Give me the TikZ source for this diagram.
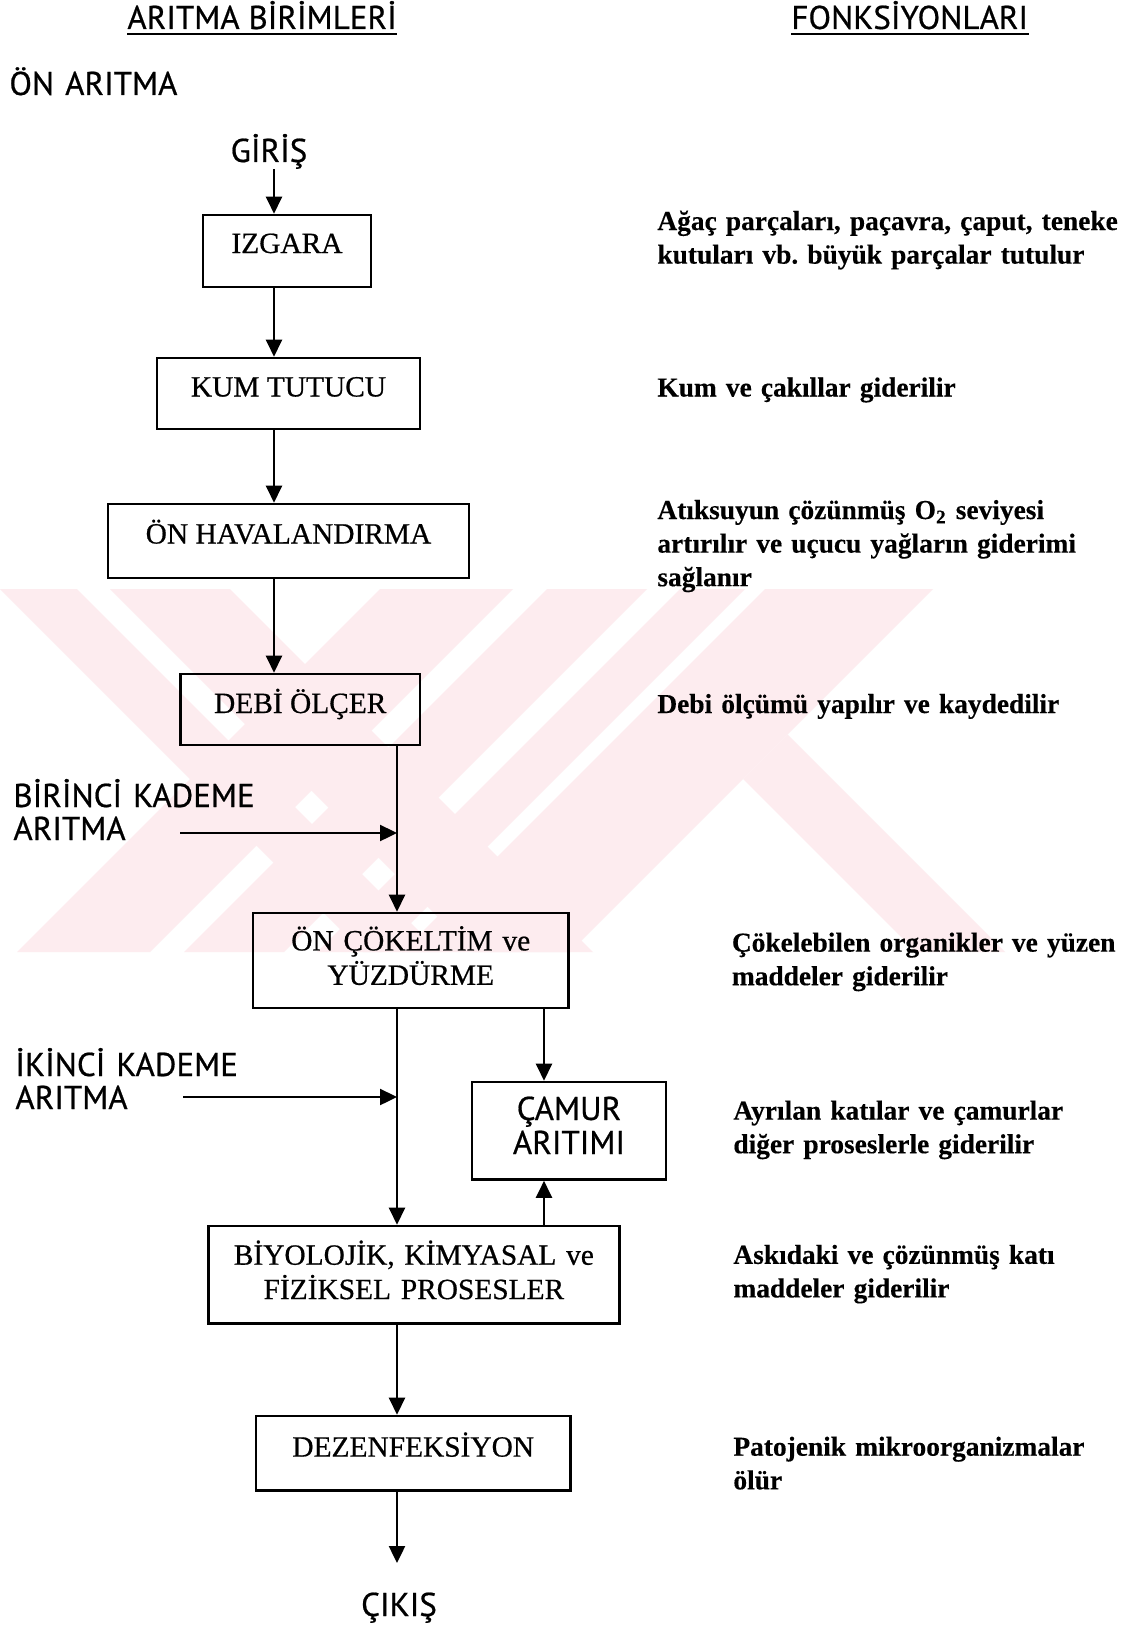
\documentclass[tikz,border=0pt]{standalone}
\usepackage{fontspec}
\setmainfont{Liberation Serif}
\newfontfamily\lblfont[FakeBold=0.6]{PT Sans}
\newfontfamily\boxfont[FakeBold=0.6]{Liberation Serif}
\newfontfamily\funcfont[FakeBold=0.3]{Liberation Serif Bold}
\usetikzlibrary{arrows.meta}
\definecolor{wm}{RGB}{253,236,239}
\frenchspacing
\begin{document}
\begin{tikzpicture}[x=0.5pt,y=-0.5pt,
  box/.style={draw, line width=1.3pt, inner sep=0pt},
  btxt/.style={anchor=base, inner sep=0pt, font=\boxfont\fontsize{14.7}{17}\selectfont},
  btxt2/.style={anchor=base, inner sep=0pt, text width=230pt, align=center, font=\boxfont\fontsize{14.7}{17.2}\selectfont},
  lbl/.style={anchor=base west, inner sep=0pt, text width=200pt, align=left, font=\lblfont\fontsize{16.5}{16.5}\selectfont},
  lblc/.style={anchor=base, inner sep=0pt, font=\lblfont\fontsize{16.5}{17}\selectfont},
  ftxt/.style={anchor=base west, inner sep=0pt, text width=260pt, align=left, font={\funcfont\fontsize{13.7}{16.8}\selectfont}},
  arr/.style={line width=1.2pt, -{Triangle[length=8.5pt,width=8pt]}},
  ln/.style={line width=1.2pt}]
\useasboundingbox[fill=white] (0,0) rectangle (1139,1627);
% watermark
\begin{scope}
\clip (0,589) rectangle (1139,952);
% "\" bands
\fill[wm] (0,589) -- (77,589) -- (440,952) -- (363,952) -- cycle;
\fill[wm] (110,589) -- (230,589) -- (593,952) -- (473,952) -- cycle;
% "/" bands
\fill[wm] (380,589) -- (513,589) -- (150,952) -- (17,952) -- cycle;
\fill[wm] (547,589) -- (647,589) -- (284,952) -- (184,952) -- cycle;
\fill[wm] (680,589) -- (745,589) -- (382,952) -- (317,952) -- cycle;
\fill[wm] (765,589) -- (933,589) -- (570,952) -- (402,952) -- cycle;
% K arm
\fill[wm] (787.5,734.5) -- (1005,952) -- (916,952) -- (743,779) -- cycle;
\end{scope}
% column coordinates
\coordinate (c1) at (274,0);
\coordinate (c2) at (397,0);
\coordinate (c4) at (544,0);
% headings
\node[lblc, anchor=base west] (t1) at (127,29) {ARITMA BİRİMLERİ};
\node[lblc, anchor=base west] (t2) at (791,29) {FONKSİYONLARI};
\draw[line width=1.1pt] ([yshift=-2.5pt]t1.base west) -- ([yshift=-2.5pt]t1.base east);
\draw[line width=1.1pt] ([yshift=-2.5pt]t2.base west) -- ([yshift=-2.5pt]t2.base east);
\node[lbl] (onar) at (9,95) {ÖN ARITMA};
\node[lblc] (giris) at (269,162) {GİRİŞ};
% boxes
\node[box, minimum width=84pt, minimum height=36pt] (izgara) at (287,251) {};
\node[btxt] (izgaraT) at (287,253) {IZGARA};
\node[box, minimum width=131.5pt, minimum height=35.5pt] (kum) at (288.5,393.5) {};
\node[btxt] (kumT) at (288.5,396.5) {KUM TUTUCU};
\node[box, minimum width=180.5pt, minimum height=37pt] (onhav) at (288.5,541) {};
\node[btxt] (onhavT) at (288.5,543.5) {ÖN HAVALANDIRMA};
\node[box, minimum width=119.75pt, minimum height=35.5pt] (debi) at (300.25,709.5) {};
\node[btxt] (debiT) at (300.25,713) {DEBİ ÖLÇER};
\node[box, minimum width=157.75pt, minimum height=47.5pt] (oncok) at (410.75,960.5) {};
\node[btxt2] (oncokT) at (410.75,950.4) {ÖN ÇÖKELTİM ve\\YÜZDÜRME};
\node[box, minimum width=97pt, minimum height=48.75pt] (camur) at (569,1130.75) {};
\node[lblc, text width=120pt, align=center] (camurT) at (569,1120) {ÇAMUR\\ARITIMI};
\node[box, minimum width=205.4pt, minimum height=48.8pt] (biyo) at (413.9,1274.8) {};
\node[btxt2] (biyoT) at (413.9,1264.7) {BİYOLOJİK, KİMYASAL ve\\FİZİKSEL PROSESLER};
\node[box, minimum width=157.25pt, minimum height=37.3pt] (dez) at (413.25,1453.3) {};
\node[btxt] (dezT) at (413.25,1456.6) {DEZENFEKSİYON};
\node[lblc] (cikis) at (399,1616) {ÇIKIŞ};
% stage labels
\node[lbl] (bir) at (13,807) {BİRİNCİ KADEME\\ARITMA};
\node[lbl] (iki) at (15,1076) {İKİNCİ KADEME\\ARITMA};
\coordinate (birS) at (180,833);
\coordinate (ikiS) at (183,1097);
\coordinate (outE) at (397,1563);
% connectors
\draw[arr] (giris.south -| c1) -- (izgara.north -| c1);
\draw[arr] (izgara.south -| c1) -- (kum.north -| c1);
\draw[arr] (kum.south -| c1) -- (onhav.north -| c1);
\draw[arr] (onhav.south -| c1) -- (debi.north -| c1);
\draw[arr] (debi.south -| c2) -- (oncok.north -| c2);
\draw[arr] (birS) -- (birS -| c2);
\draw[arr] (oncok.south -| c2) -- (biyo.north -| c2);
\draw[arr] (ikiS) -- (ikiS -| c2);
\draw[arr] (oncok.south -| c4) -- (camur.north -| c4);
\draw[arr] (biyo.north -| c4) -- (camur.south -| c4);
\draw[arr] (biyo.south -| c2) -- (dez.north -| c2);
\draw[arr] (dez.south -| c2) -- (outE);
% functions
\node[ftxt] (f1) at (657,230) {Ağaç parçaları, paçavra, çaput, teneke\\kutuları vb. büyük parçalar tutulur};
\node[ftxt] (f2) at (657,396.5) {Kum ve çakıllar giderilir};
\node[ftxt] (f3) at (657,519) {Atıksuyun çözünmüş O\textsubscript{2} seviyesi\\artırılır ve uçucu yağların giderimi\\sağlanır};
\node[ftxt] (f4) at (657,713) {Debi ölçümü yapılır ve kaydedilir};
\node[ftxt] (f5) at (731.5,951.6) {Çökelebilen organikler ve yüzen\\maddeler giderilir};
\node[ftxt] (f6) at (733,1119.6) {Ayrılan katılar ve çamurlar\\diğer proseslerle giderilir};
\node[ftxt] (f7) at (733,1263.8) {Askıdaki ve çözünmüş katı\\maddeler giderilir};
\node[ftxt] (f8) at (733,1455.7) {Patojenik mikroorganizmalar\\ölür};
\end{tikzpicture}
\end{document}
